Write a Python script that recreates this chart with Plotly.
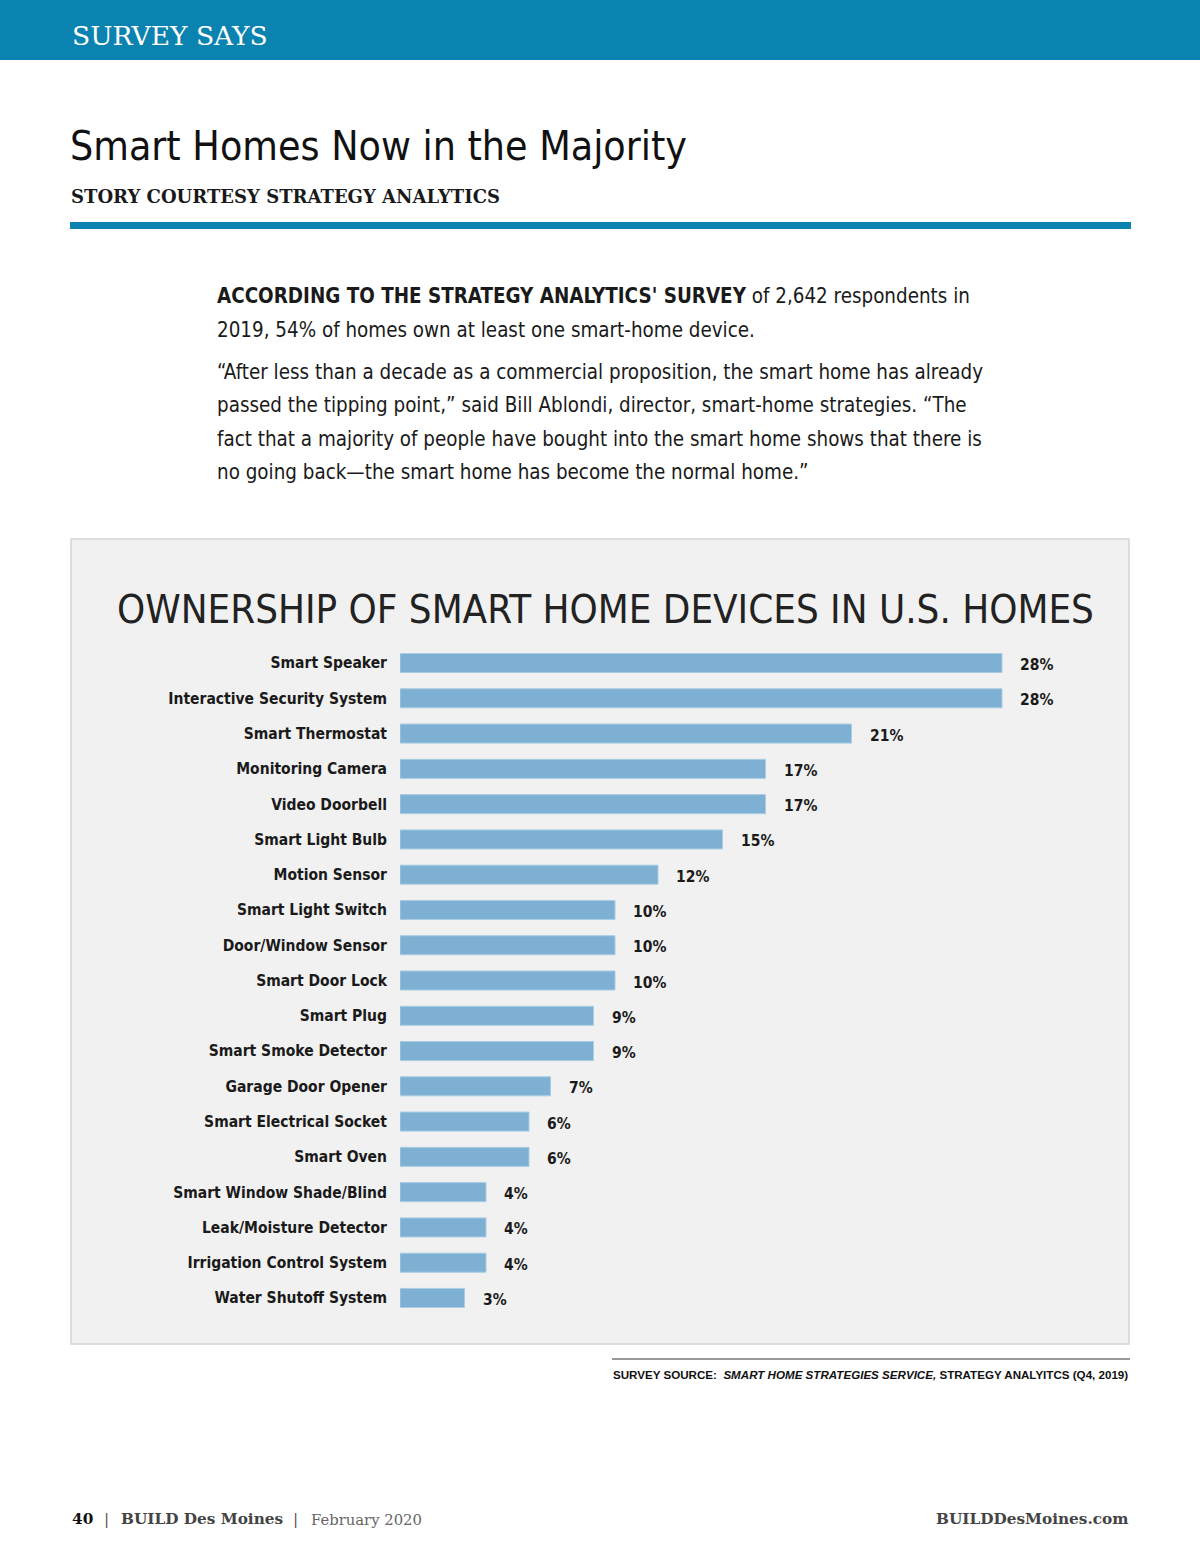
import plotly.graph_objects as go

W, H = 1200, 1553

categories = [
    "Smart Speaker", "Interactive Security System", "Smart Thermostat",
    "Monitoring Camera", "Video Doorbell", "Smart Light Bulb", "Motion Sensor",
    "Smart Light Switch", "Door/Window Sensor", "Smart Door Lock", "Smart Plug",
    "Smart Smoke Detector", "Garage Door Opener", "Smart Electrical Socket",
    "Smart Oven", "Smart Window Shade/Blind", "Leak/Moisture Detector",
    "Irrigation Control System", "Water Shutoff System",
]
ownership_pct = [28, 28, 21, 17, 17, 15, 12, 10, 10, 10, 9, 9, 7, 6, 6, 4, 4, 4, 3]
value_labels = [f"{v}%" for v in ownership_pct]

BLUE = "#0b83b0"
BAR = "#7db0d2"
NARROW = "DejaVu Sans Condensed, Liberation Sans Narrow, sans-serif"
SANS = "Liberation Sans, Arial, sans-serif"
SERIF = "DejaVu Serif, Liberation Serif, serif"


def px_x(x):
    return x / W


def px_y(y):
    return 1 - y / H


fig = go.Figure()
fig.add_trace(go.Bar(
    x=ownership_pct, y=categories, orientation="h",
    marker=dict(color=BAR, line=dict(color="#a9cde3", width=1)),
    hoverinfo="x+y", showlegend=False,
))

# plot area geometry (pixels)
x0, x1 = 400, 1100
px_per_pct = 21.5
y_top, y_bot = 645.4, 1315.6

annotations = []
for cat, v, lab in zip(categories, ownership_pct, value_labels):
    annotations.append(dict(
        x=v, y=cat, xref="x", yref="y", text=lab, showarrow=False,
        xanchor="left", yanchor="middle", xshift=16, yshift=-2,
        font=dict(family=NARROW, size=15.5, color="#1a1a1a", weight="bold"),
    ))


def add_text(x, y, text, size, color="#1a1a1a", family=NARROW, xanchor="left",
             yanchor="middle", weight="normal"):
    annotations.append(dict(
        x=px_x(x), y=px_y(y), xref="paper", yref="paper", text=text,
        showarrow=False, xanchor=xanchor, yanchor=yanchor,
        font=dict(family=family, size=size, color=color, weight=weight),
    ))


# header
add_text(70, 36, "SURVEY SAYS", 26.5, color="white", family=SERIF)
# headline
add_text(68, 146, "Smart Homes Now in the Majority", 40.7, color="#111111", family=NARROW)
add_text(69, 197, "STORY COURTESY STRATEGY ANALYTICS", 18, color="#1a1a1a",
         family=SERIF, weight="bold")

# body text
body_lines = [
    (296, "<b>ACCORDING TO THE STRATEGY ANALYTICS' SURVEY</b> of 2,642 respondents in"),
    (330, "2019, 54% of homes own at least one smart-home device."),
    (372, "“After less than a decade as a commercial proposition, the smart home has already"),
    (405, "passed the tipping point,” said Bill Ablondi, director, smart-home strategies. “The"),
    (439, "fact that a majority of people have bought into the smart home shows that there is"),
    (472, "no going back—the smart home has become the normal home.”"),
]
for y, t in body_lines:
    add_text(215, y, t, 20.4, color="#1a1a1a")

# chart title
add_text(605, 609, "OWNERSHIP OF SMART HOME DEVICES IN U.S. HOMES", 39.9,
         color="#222222", family=NARROW, xanchor="center")

# source
add_text(1130, 1374,
         "SURVEY SOURCE:  <i>SMART HOME STRATEGIES SERVICE,</i> STRATEGY ANALYITCS (Q4, 2019)",
         11.6, color="#111111", family=SANS, xanchor="right", weight="bold")

# footer
add_text(70, 1519, "40", 15.3, color="#111111", family=SERIF, weight="bold")
add_text(106, 1519, "|", 15.3, color="#555555", family=SERIF, xanchor="center")
add_text(119, 1519, "BUILD Des Moines", 15.3, color="#444444", family=SERIF, weight="bold")
add_text(295, 1519, "|", 15.3, color="#555555", family=SERIF, xanchor="center")
add_text(309, 1519, "February 2020", 14.8, color="#666666", family=SERIF)
add_text(1131, 1519, "BUILDDesMoines.com", 15.3, color="#444444", family=SERIF,
         xanchor="right", weight="bold")

shapes = [
    dict(type="rect", xref="paper", yref="paper", x0=0, x1=1, y0=px_y(60), y1=1,
         fillcolor=BLUE, line=dict(width=0), layer="below"),
    dict(type="rect", xref="paper", yref="paper", x0=px_x(70), x1=px_x(1131),
         y0=px_y(229), y1=px_y(222), fillcolor=BLUE, line=dict(width=0), layer="below"),
    dict(type="rect", xref="paper", yref="paper", x0=px_x(71), x1=px_x(1129),
         y0=px_y(1344), y1=px_y(539), fillcolor="#f1f1f1",
         line=dict(color="#d4d4d4", width=1.5), layer="below"),
    dict(type="line", xref="paper", yref="paper", x0=px_x(612), x1=px_x(1130),
         y0=px_y(1359), y1=px_y(1359), line=dict(color="#333333", width=1)),
]

fig.update_layout(
    width=W, height=H,
    margin=dict(l=0, r=0, t=0, b=0),
    paper_bgcolor="white", plot_bgcolor="rgba(0,0,0,0)",
    bargap=0.46,
    xaxis=dict(domain=[px_x(x0), px_x(x1)], range=[0, (x1 - x0) / px_per_pct],
               visible=False, fixedrange=True),
    yaxis=dict(domain=[px_y(y_bot), px_y(y_top)], range=[18.5, -0.5],
               type="category", ticks="", showgrid=False, zeroline=False,
               showline=False, ticklabelstandoff=12,
               tickfont=dict(family=NARROW, size=15.5, color="#1a1a1a", weight="bold"),
               fixedrange=True),
    annotations=annotations,
    shapes=shapes,
)

fig.write_html("out.html", config={"displayModeBar": False},
               post_script="document.body.style.margin='0';")
